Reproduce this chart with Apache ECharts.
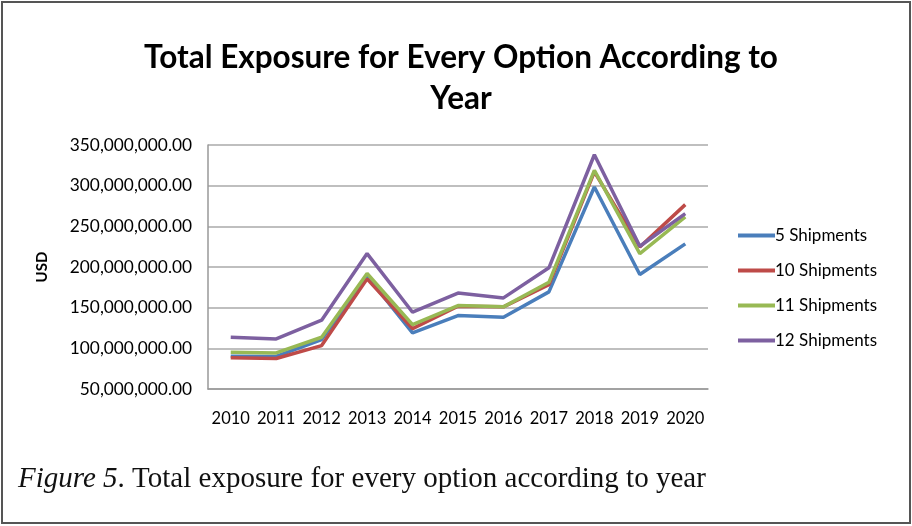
<!DOCTYPE html>
<html><head><meta charset="utf-8">
<script src="https://cdn.jsdelivr.net/npm/echarts@6/dist/echarts.min.js"></script>
<style>html,body{margin:0;padding:0;background:#fff}#c{width:912px;height:526px}</style>
</head><body><div id="c"></div>
<script>
const years = ['2010','2011','2012','2013','2014','2015','2016','2017','2018','2019','2020'];
const s5  = [90.3, 90.0, 110.8, 188.6, 119.0, 140.3, 138.2, 169.4, 298.4, 190.7, 228.4];
const s10 = [88.3, 87.5, 103.4, 185.4, 124.3, 151.8, 151.0, 178.4, 317.0, 224.7, 276.7];
const s11 = [95.2, 94.4, 113.6, 192.0, 129.2, 152.6, 151.0, 181.2, 318.8, 216.5, 261.5];
const s12 = [113.6, 111.6, 134.6, 216.5, 144.4, 168.0, 162.0, 199.0, 338.0, 225.5, 265.6];
const seriesNames = ['5 Shipments','10 Shipments','11 Shipments','12 Shipments'];
const colors = ['#4a7ebb','#be4b48','#98b954','#7d60a0'];
const toUsd = a => a.map(v => v * 1e6);
const data = [s5, s10, s11, s12];

const chart = echarts.init(document.getElementById('c'));
const fmt = v => v.toLocaleString('en-US',{minimumFractionDigits:2,maximumFractionDigits:2});
chart.setOption({
  animation:false,
  color: colors,
  title:{
    text:'Total Exposure for Every Option According to\nYear',
    top:32, left:456, textAlign:'center',
    textStyle:{fontFamily:'Lato', fontWeight:'bold', fontSize:31.5, lineHeight:41, color:'#000'}
  },
  grid:{left:208, right:204, top:145, bottom:137},
  legend:{
    orient:'vertical', left:733, top:222, itemGap:18, itemWidth:37, itemHeight:4,
    icon:'rect',
    textStyle:{fontFamily:'Lato', fontSize:17, color:'#000', padding:[0,0,0,-5]},
    data: seriesNames
  },
  xAxis:{
    type:'category', data:years, boundaryGap:true,
    axisLine:{lineStyle:{color:'#999', width:1.5}},
    axisTick:{show:false},
    axisLabel:{fontFamily:'Lato', fontSize:16.5, color:'#000', margin:21, interval:0}
  },
  yAxis:{
    type:'value', min:50000000, max:350000000, interval:50000000,
    name:'USD', nameLocation:'middle', nameGap:158, nameRotate:90,
    nameTextStyle:{fontFamily:'Lato', fontWeight:'bold', fontSize:15, color:'#000'},
    axisLine:{show:true, lineStyle:{color:'#999', width:1.5}},
    axisTick:{show:false},
    splitLine:{lineStyle:{color:'#aaa', width:1.5}},
    axisLabel:{fontFamily:'Lato', fontSize:17.3, color:'#000', margin:16, formatter:fmt}
  },
  series: data.map((d,i)=>({
    name:seriesNames[i], type:'line', data:toUsd(d), symbol:'none',
    lineStyle:{width:3.5, color:colors[i]}, itemStyle:{color:colors[i]}
  })),
  graphic:[
    {type:'rect', shape:{x:2, y:2, width:908, height:521}, style:{fill:'none', stroke:'#555', lineWidth:2}, silent:true},
    {type:'text', left:18, top:465, style:{
      rich:{i:{fontFamily:'Liberation Serif', fontStyle:'italic', fontSize:29, fill:'#111'},
            n:{fontFamily:'Liberation Serif', fontSize:29, fill:'#111'}},
      text:'{i|Figure 5}{n|. Total exposure for every option according to year}'
    }}
  ]
});
</script></body></html>
